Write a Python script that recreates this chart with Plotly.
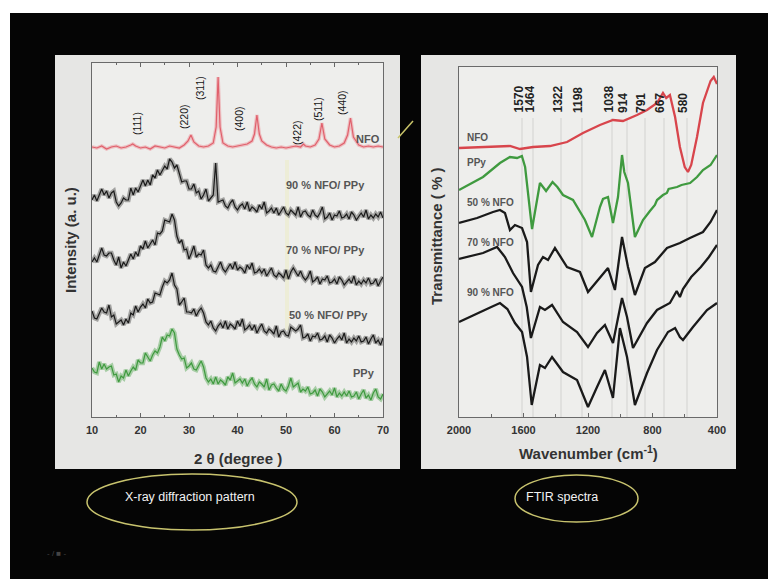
import plotly.graph_objects as go

W, H = 768, 579

# ---------------- XRD data (2 theta grid, 0.5 deg step) ----------------
xrd_two_theta = [10 + 0.5 * i for i in range(121)]

xrd_90 = [217, 222, 216, 222, 228, 222, 226, 219, 224, 226,
          215, 211, 214, 219, 217, 217, 229, 222, 229, 225,
          231, 237, 231, 237, 232, 242, 239, 247, 242, 247,
          251, 248, 258, 255, 249, 252, 242, 235, 236, 236,
          228, 228, 233, 224, 226, 218, 222, 228, 216, 219,
          222, 254, 215, 216, 217, 211, 209, 214, 217, 210,
          207, 211, 213, 208, 215, 206, 210, 208, 205, 212,
          208, 215, 204, 206, 209, 204, 209, 202, 206, 210,
          204, 202, 207, 204, 202, 210, 200, 205, 206, 202,
          200, 207, 202, 200, 204, 210, 198, 200, 204, 197,
          202, 201, 206, 199, 200, 203, 198, 205, 202, 197,
          201, 204, 200, 207, 198, 202, 199, 203, 200, 205,
          199]

xrd_70 = [155, 159, 155, 163, 169, 162, 161, 164, 164, 157,
          152, 160, 149, 155, 151, 157, 163, 158, 165, 161,
          171, 168, 176, 169, 173, 177, 172, 184, 183, 186,
          197, 196, 195, 203, 197, 181, 174, 177, 167, 168,
          158, 164, 171, 160, 163, 162, 167, 152, 149, 152,
          146, 145, 151, 155, 148, 145, 149, 153, 148, 155,
          147, 150, 148, 144, 152, 148, 154, 144, 145, 148,
          144, 148, 141, 145, 149, 142, 140, 144, 142, 139,
          147, 138, 145, 149, 145, 141, 146, 140, 137, 140,
          146, 135, 137, 140, 133, 138, 137, 141, 134, 135,
          138, 133, 140, 137, 132, 135, 138, 134, 141, 132,
          136, 133, 137, 134, 139, 133, 134, 138, 131, 136,
          140]

xrd_50 = [106, 99, 98, 104, 109, 105, 104, 112, 100, 102,
          93, 95, 97, 92, 98, 94, 104, 102, 111, 105,
          110, 113, 109, 118, 114, 115, 124, 123, 122, 130,
          136, 134, 137, 144, 132, 128, 112, 115, 119, 105,
          105, 104, 108, 101, 106, 109, 104, 95, 92, 96,
          89, 86, 91, 94, 89, 96, 88, 93, 91, 88,
          96, 91, 98, 87, 89, 92, 87, 92, 84, 89,
          93, 86, 84, 88, 86, 83, 91, 80, 85, 86,
          82, 81, 90, 88, 86, 88, 92, 79, 80, 83,
          76, 81, 80, 84, 77, 78, 81, 75, 82, 79,
          74, 78, 81, 77, 84, 74, 78, 75, 79, 76,
          81, 75, 76, 80, 73, 78, 82, 74, 77, 72,
          79]

xrd_ppy = [49, 45, 44, 55, 48, 53, 48, 50, 51, 42,
           43, 35, 41, 39, 47, 41, 46, 50, 47, 57,
           54, 54, 64, 60, 56, 62, 66, 64, 70, 80,
           76, 82, 81, 88, 84, 68, 62, 58, 59, 49,
           51, 54, 48, 47, 52, 56, 50, 39, 35, 38,
           33, 40, 33, 37, 35, 32, 40, 37, 44, 34,
           36, 38, 34, 38, 31, 36, 39, 33, 30, 35,
           33, 30, 38, 27, 32, 33, 29, 26, 33, 28,
           26, 31, 39, 30, 32, 34, 25, 28, 26, 30,
           23, 24, 27, 21, 28, 25, 20, 23, 26, 22,
           29, 20, 24, 21, 25, 21, 26, 20, 21, 25,
           18, 23, 27, 19, 22, 17, 24, 28, 20, 18,
           23]

xrd_nfo_x = [10, 11, 12, 13, 14, 15, 16, 17, 18, 18.4, 19, 20, 21, 22, 23, 24, 25, 26, 27, 28,
             29, 29.8, 30.4, 31, 32, 33, 34, 35, 35.6, 36.0, 36.4, 37, 38, 39, 40, 41, 42, 43,
             43.5, 44.0, 44.5, 45, 46, 47, 48, 49, 50, 51, 52, 53, 53.6, 54, 55, 56, 56.8, 57.4,
             58, 59, 60, 61, 62, 62.7, 63.3, 63.9, 65, 66, 67, 68, 69, 70]
xrd_nfo = [270, 269, 271, 268, 270, 271, 269, 270, 272, 273, 271, 269, 270, 268, 271, 270, 269, 271, 270, 269,
           272, 276, 282, 275, 271, 270, 271, 274, 290, 340, 290, 274, 271, 270, 271, 272, 273, 276,
           283, 302, 283, 276, 272, 270, 269, 270, 269, 270, 271, 270, 273, 271, 270, 272, 278, 294,
           278, 272, 270, 271, 274, 282, 299, 280, 272, 270, 271, 270, 271, 270]

for arr in (xrd_90, xrd_70, xrd_50, xrd_ppy):
    assert len(arr) == len(xrd_two_theta), len(arr)
assert len(xrd_nfo_x) == len(xrd_nfo)

xrd_miller = ["(111)", "(220)", "(311)", "(400)", "(422)", "(511)", "(440)"]
xrd_tick_vals = [10, 20, 30, 40, 50, 60, 70]

# ---------------- FTIR data ----------------
ftir_nfo_wn = [2000, 1851, 1684, 1622, 1541, 1436, 1330, 1231, 1126, 1045, 983, 896, 834, 772, 735, 715,
               692, 660, 630, 600, 580, 560, 524, 487, 440, 420, 400]
ftir_nfo = [269, 270, 271, 268, 270, 271, 275, 284, 292, 297, 296, 302, 307, 314, 324, 319,
            322, 300, 270, 250, 245, 252, 280, 314, 336, 340, 333]

ftir_ppy_wn = [2000, 1851, 1746, 1684, 1640, 1610, 1590, 1547, 1498, 1460, 1420, 1390, 1355, 1293, 1219,
               1175, 1126, 1107, 1076, 1045, 1014, 989, 975, 952, 909, 859, 816, 785, 772, 735, 711, 700,
               648, 620, 567, 524, 487, 440, 400]
ftir_ppy = [227, 240, 254, 260, 259, 261, 250, 188, 234, 226, 235, 230, 222, 217, 197,
            180, 210, 218, 220, 194, 220, 262, 245, 234, 180, 197, 206, 212, 217, 222, 224, 228,
            230, 232, 234, 240, 247, 252, 262]

ftir_50_wn = [2000, 1888, 1789, 1746, 1715, 1684, 1653, 1609, 1578, 1554, 1510, 1479, 1448, 1405, 1330,
              1250, 1200, 1126, 1076, 1033, 989, 952, 909, 847, 785, 710, 630, 568, 487, 440, 400]
ftir_50 = [194, 199, 205, 207, 204, 187, 192, 189, 175, 125, 152, 160, 157, 169, 150,
           145, 125, 140, 149, 127, 180, 150, 122, 149, 155, 169, 174, 179, 185, 195, 207]

ftir_70_wn = [2000, 1851, 1764, 1715, 1665, 1609, 1580, 1554, 1498, 1467, 1423, 1355, 1268, 1200, 1144,
              1095, 1045, 989, 958, 921, 834, 772, 692, 650, 630, 611, 560, 500, 450, 400]
ftir_70 = [158, 164, 170, 160, 144, 130, 110, 79, 110, 107, 112, 95, 85, 70, 84,
           92, 74, 119, 100, 69, 94, 107, 114, 126, 120, 128, 140, 150, 160, 172]

ftir_90_wn = [2000, 1888, 1800, 1746, 1700, 1653, 1609, 1578, 1549, 1498, 1467, 1423, 1355, 1268, 1200,
              1144, 1095, 1045, 1002, 958, 909, 834, 772, 704, 660, 630, 611, 549, 462, 400]
ftir_90 = [95, 103, 110, 114, 108, 94, 85, 60, 12, 52, 49, 60, 45, 37, 10,
           30, 47, 19, 89, 60, 12, 44, 67, 85, 89, 80, 77, 90, 107, 114]

for a, b in ((ftir_nfo_wn, ftir_nfo), (ftir_ppy_wn, ftir_ppy), (ftir_50_wn, ftir_50),
             (ftir_70_wn, ftir_70), (ftir_90_wn, ftir_90)):
    assert len(a) == len(b), (len(a), len(b))

ftir_bands = ["1570", "1464", "1322", "1198", "1038", "914", "791", "667", "580"]
ftir_tick_vals = [2000, 1600, 1200, 800, 400]

# ---------------- layout helpers (pixel -> paper) ----------------
def px(x):
    return x / W

def py(y):
    return 1 - y / H

L_X0, L_X1, L_Y0, L_Y1 = 92, 383, 63, 417
R_X0, R_X1, R_Y0, R_Y1 = 459, 717, 67, 417

fig = go.Figure()

BLACK_TR = "#1a1a1a"
XRD_RED = "#e0606c"
GREEN = "#3f9a3f"
FT_RED = "#d8454c"

fig.add_trace(go.Scatter(x=xrd_nfo_x, y=xrd_nfo, mode="lines", line=dict(color="rgba(235,130,140,0.45)", width=3.5),
                         xaxis="x", yaxis="y", showlegend=False, hoverinfo="skip"))
fig.add_trace(go.Scatter(x=xrd_nfo_x, y=xrd_nfo, mode="lines", line=dict(color=XRD_RED, width=1.2),
                         xaxis="x", yaxis="y", showlegend=False))
for arr, col, halo in ((xrd_90, BLACK_TR, "rgba(50,50,50,0.4)"), (xrd_70, BLACK_TR, "rgba(50,50,50,0.4)"),
                       (xrd_50, BLACK_TR, "rgba(50,50,50,0.4)"), (xrd_ppy, GREEN, "rgba(60,155,60,0.4)")):
    fig.add_trace(go.Scatter(x=xrd_two_theta, y=arr, mode="lines", line=dict(color=halo, width=4.5),
                             xaxis="x", yaxis="y", showlegend=False, hoverinfo="skip"))
    fig.add_trace(go.Scatter(x=xrd_two_theta, y=arr, mode="lines", line=dict(color=col, width=1.2),
                             xaxis="x", yaxis="y", showlegend=False))

for wn, t, col in ((ftir_nfo_wn, ftir_nfo, FT_RED), (ftir_ppy_wn, ftir_ppy, GREEN),
                   (ftir_50_wn, ftir_50, BLACK_TR), (ftir_70_wn, ftir_70, BLACK_TR),
                   (ftir_90_wn, ftir_90, BLACK_TR)):
    fig.add_trace(go.Scatter(x=wn, y=t, mode="lines", line=dict(color=col, width=2.3),
                             xaxis="x2", yaxis="y2", showlegend=False))

shapes = []
shapes.append(dict(type="rect", xref="paper", yref="paper", x0=0, x1=1, y0=py(13), y1=1,
                   fillcolor="white", line=dict(width=0), layer="below"))
shapes.append(dict(type="rect", xref="paper", yref="paper", x0=0, x1=px(10), y0=0, y1=1,
                   fillcolor="white", line=dict(width=0), layer="below"))
shapes.append(dict(type="rect", xref="paper", yref="paper", x0=px(55), x1=px(400), y0=py(469), y1=py(55),
                   fillcolor="#e6e6e4", line=dict(width=0), layer="below"))
shapes.append(dict(type="rect", xref="paper", yref="paper", x0=px(421), x1=px(736), y0=py(469), y1=py(55),
                   fillcolor="#e6e6e4", line=dict(width=0), layer="below"))
shapes.append(dict(type="rect", xref="paper", yref="paper", x0=px(L_X0), x1=px(L_X1), y0=py(L_Y1), y1=py(L_Y0),
                   fillcolor="#eeeeec", line=dict(width=0), layer="below"))
shapes.append(dict(type="rect", xref="paper", yref="paper", x0=px(R_X0), x1=px(R_X1), y0=py(R_Y1), y1=py(R_Y0),
                   fillcolor="#eeeeec", line=dict(width=0), layer="below"))
ftir_label_px = [518, 529, 557, 578, 608, 623, 641, 660, 683]
for xp in ftir_label_px:
    shapes.append(dict(type="line", xref="paper", yref="paper", x0=px(xp + 4), x1=px(xp + 4),
                       y0=py(R_Y1), y1=py(118), line=dict(color="rgba(170,170,170,0.4)", width=1),
                       layer="below"))
shapes.append(dict(type="line", xref="paper", yref="paper", x0=px(398), x1=px(413), y0=py(138), y1=py(121),
                   line=dict(color="#c9c46a", width=1.5)))
shapes.append(dict(type="line", xref="paper", yref="paper", x0=px(287), x1=px(287), y0=py(330), y1=py(160),
                   line=dict(color="rgba(235,235,150,0.25)", width=4), layer="below"))
shapes.append(dict(type="circle", xref="paper", yref="paper", x0=px(87), x1=px(297), y0=py(530), y1=py(474),
                   line=dict(color="#c8c36e", width=1.5)))
shapes.append(dict(type="circle", xref="paper", yref="paper", x0=px(515), x1=px(638), y0=py(522), y1=py(475),
                   line=dict(color="#c8c36e", width=1.5)))

ann = []
BOLD = "Liberation Sans"

def text(xp, yp, s, size=9, color="#444", angle=0, xa="center", ya="middle", bold=True, family=BOLD):
    ann.append(dict(xref="paper", yref="paper", x=px(xp), y=py(yp), text=s, showarrow=False,
                    textangle=angle, xanchor=xa, yanchor=ya,
                    font=dict(family=family, size=size, color=color, weight="bold" if bold else "normal")))

miller_px = [(137, 124), (184, 117), (200, 88), (239, 119), (297, 133), (318, 109), (342, 103)]
for lab, (xp, yp) in zip(xrd_miller, miller_px):
    text(xp, yp, lab, size=10.5, color="#151515", angle=-90, bold=False)
text(368, 139, "NFO", size=11, color="#555")
text(325, 185, "90 % NFO/ PPy", size=11, color="#555")
text(325, 250, "70 % NFO/ PPy", size=11, color="#555")
text(328, 315, "50 % NFO/ PPy", size=11, color="#555")
text(364, 373, "PPy", size=11, color="#555")
text(238, 458, "2 θ (degree )", size=15, color="#333")
text(71, 240, "Intensity (a. u.)", size=15, color="#333", angle=-90)

for lab, xp in zip(ftir_bands, ftir_label_px):
    text(xp, 115, lab, size=12, color="#222", angle=-90, ya="bottom")
text(465, 137, "NFO", size=10, color="#555", xa="left")
text(465, 162, "PPy", size=10, color="#555", xa="left")
text(465, 202, "50 % NFO", size=10, color="#555", xa="left")
text(465, 242, "70 % NFO", size=10, color="#555", xa="left")
text(465, 292, "90 % NFO", size=10, color="#555", xa="left")
text(588, 452, "Wavenumber (cm<sup>-1</sup>)", size=15, color="#333")
text(436, 236, "Transmittance ( % )", size=15, color="#333", angle=-90)

text(190, 497, "X-ray diffraction pattern", size=12.5, color="#f2f2f2", bold=False)
text(562, 497, "FTIR spectra", size=12.5, color="#f2f2f2", bold=False)
text(56, 553, "- / ■ -", size=8, color="#444", bold=False)

axis_common = dict(showline=True, linecolor="#6a6a6a", linewidth=1, showgrid=False, zeroline=False,
                   automargin=False)
tickfont = dict(family=BOLD, size=11, color="#333", weight="bold")

fig.update_layout(
    width=W, height=H, autosize=False,
    margin=dict(l=0, r=0, t=0, b=0, pad=0, autoexpand=False),
    paper_bgcolor="#050505", plot_bgcolor="rgba(0,0,0,0)",
    shapes=shapes, annotations=ann, showlegend=False,
    xaxis=dict(domain=[px(L_X0), px(L_X1)], range=[10, 70], anchor="y", tickvals=xrd_tick_vals,
               ticks="inside", ticklen=4, tickcolor="#666", mirror="ticks", tickfont=tickfont,
               ticklabelstandoff=3, minor=dict(ticks="inside", ticklen=2, dtick=5, tickcolor="#666"),
               **axis_common),
    yaxis=dict(domain=[py(L_Y1), py(L_Y0)], range=[0, 354], anchor="x", showticklabels=False,
               ticks="", mirror=True, **axis_common),
    xaxis2=dict(domain=[px(R_X0), px(R_X1)], range=[2000, 400], anchor="y2", tickvals=ftir_tick_vals,
                ticks="inside", ticklen=4, tickcolor="#666", mirror=True, tickfont=tickfont,
                ticklabelstandoff=3, minor=dict(ticks="inside", ticklen=3, dtick=200, tickcolor="#666"),
                **axis_common),
    yaxis2=dict(domain=[py(R_Y1), py(R_Y0)], range=[0, 350], anchor="x2", showticklabels=False,
                ticks="", mirror=True, **axis_common),
)

fig.write_html("out.html")
